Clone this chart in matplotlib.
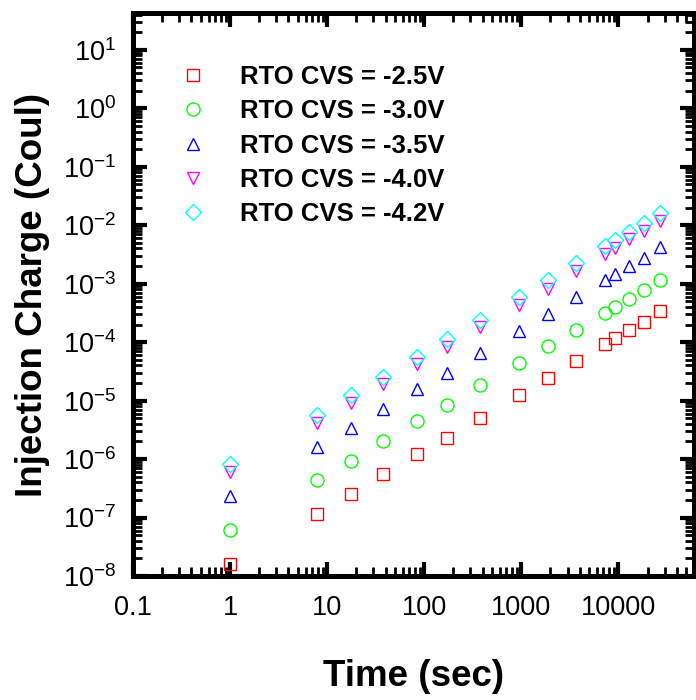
import matplotlib
matplotlib.use("Agg")
import matplotlib.pyplot as plt
import matplotlib.ticker as mticker
from matplotlib.font_manager import FontProperties

plt.rcParams["font.family"] = ["Liberation Sans", "DejaVu Sans"]
plt.rcParams["mathtext.fontset"] = "custom"
plt.rcParams["mathtext.rm"] = "Liberation Sans"
plt.rcParams["mathtext.it"] = "Liberation Sans:italic"
plt.rcParams["mathtext.bf"] = "Liberation Sans:bold"

# Stress time (s)
time_s = [1, 7.8, 17.5, 38, 85, 170, 380, 940, 1870, 3700, 7350, 9200, 12800, 18200, 27100]

# Injected charge (C) for each constant-voltage stress
q_25 = [1.6e-8, 1.14e-7, 2.5e-7, 5.5e-7, 1.2e-6, 2.33e-6, 5.1e-6, 1.24e-5, 2.45e-5,
        4.8e-5, 9.3e-5, 1.17e-4, 1.6e-4, 2.24e-4, 3.4e-4]
q_30 = [6.2e-8, 4.4e-7, 9.3e-7, 2.0e-6, 4.4e-6, 8.4e-6, 1.82e-5, 4.35e-5, 8.5e-5,
        1.64e-4, 3.2e-4, 4.0e-4, 5.5e-4, 7.8e-4, 1.15e-3]
q_35 = [2.3e-7, 1.58e-6, 3.36e-6, 7.1e-6, 1.55e-5, 3.0e-5, 6.4e-5, 1.56e-4, 3.0e-4,
        5.95e-4, 1.15e-3, 1.44e-3, 2.0e-3, 2.8e-3, 4.2e-3]
q_40 = [6.1e-7, 4.2e-6, 9.0e-6, 1.9e-5, 4.2e-5, 8.1e-5, 1.8e-4, 4.3e-4, 8.2e-4,
        1.63e-3, 3.2e-3, 4.1e-3, 5.7e-3, 7.9e-3, 1.2e-2]
q_42 = [8.1e-7, 5.7e-6, 1.23e-5, 2.56e-5, 5.6e-5, 1.12e-4, 2.4e-4, 5.9e-4, 1.14e-3,
        2.25e-3, 4.35e-3, 5.5e-3, 7.7e-3, 1.09e-2, 1.6e-2]

labels = ["RTO CVS = -2.5V", "RTO CVS = -3.0V", "RTO CVS = -3.5V",
          "RTO CVS = -4.0V", "RTO CVS = -4.2V"]
series = [q_25, q_30, q_35, q_40, q_42]
markers = ["s", "o", "^", "v", "D"]
sizes = [8, 9.4, 9, 9, 8]
colors = ["#FF0000", "#00FF00", "#0000FF", "#FF00FF", "#00FFFF"]

fig = plt.figure(figsize=(6.96, 7.0), dpi=100)
W, H = 696, 700
ax = fig.add_axes([133 / W, 1 - 576 / H, (694 - 133) / W, (576 - 13) / H])

for q, m, ms, c, lab in zip(series, markers, sizes, colors, labels):
    ax.plot(time_s, q, linestyle="none", marker=m, markersize=ms,
            markerfacecolor="none", markeredgecolor=c, markeredgewidth=1.0,
            label=lab)

ax.set_xscale("log")
ax.set_yscale("log")
ax.set_xlim(0.1, 10 ** 4.78)
ax.set_ylim(1e-8, 10 ** 1.63)

ax.xaxis.set_major_locator(mticker.LogLocator(base=10, numticks=20))
ax.xaxis.set_minor_locator(mticker.LogLocator(base=10, subs=range(2, 10), numticks=20))
ax.xaxis.set_major_formatter(mticker.FuncFormatter(lambda v, p: f"{v:g}"))
ax.xaxis.set_minor_formatter(mticker.NullFormatter())
ax.yaxis.set_major_locator(mticker.LogLocator(base=10, numticks=20))
ax.yaxis.set_minor_locator(mticker.LogLocator(base=10, subs=range(2, 10), numticks=20))
ax.yaxis.set_major_formatter(mticker.LogFormatterMathtext())
ax.yaxis.set_minor_formatter(mticker.NullFormatter())

for s in ax.spines.values():
    s.set_linewidth(3.6)

ax.tick_params(which="both", direction="in", top=True, right=True,
               labelsize=19.5, colors="black")
ax.tick_params(which="major", length=10, width=3)
ax.tick_params(which="minor", length=6.5, width=2)
ax.tick_params(axis="x", which="major", pad=14)
ax.tick_params(axis="y", which="major", pad=12)

lab_font = FontProperties(family="Liberation Sans", weight="bold", size=26.5)
ax.set_xlabel("Time (sec)", fontproperties=lab_font, labelpad=27)
ax.set_ylabel("Injection Charge (Coul)", fontproperties=lab_font, labelpad=9)

leg_font = FontProperties(family="Liberation Sans", weight="bold", size=18.5)
ax.legend(loc="upper left", bbox_to_anchor=((180.5 - 133) / 561, (576 - 65) / 563),
          frameon=False, prop=leg_font, handlelength=1.0, handletextpad=1.3,
          labelspacing=0.4, borderpad=0, borderaxespad=0)

fig.savefig("out.png", dpi=100)
